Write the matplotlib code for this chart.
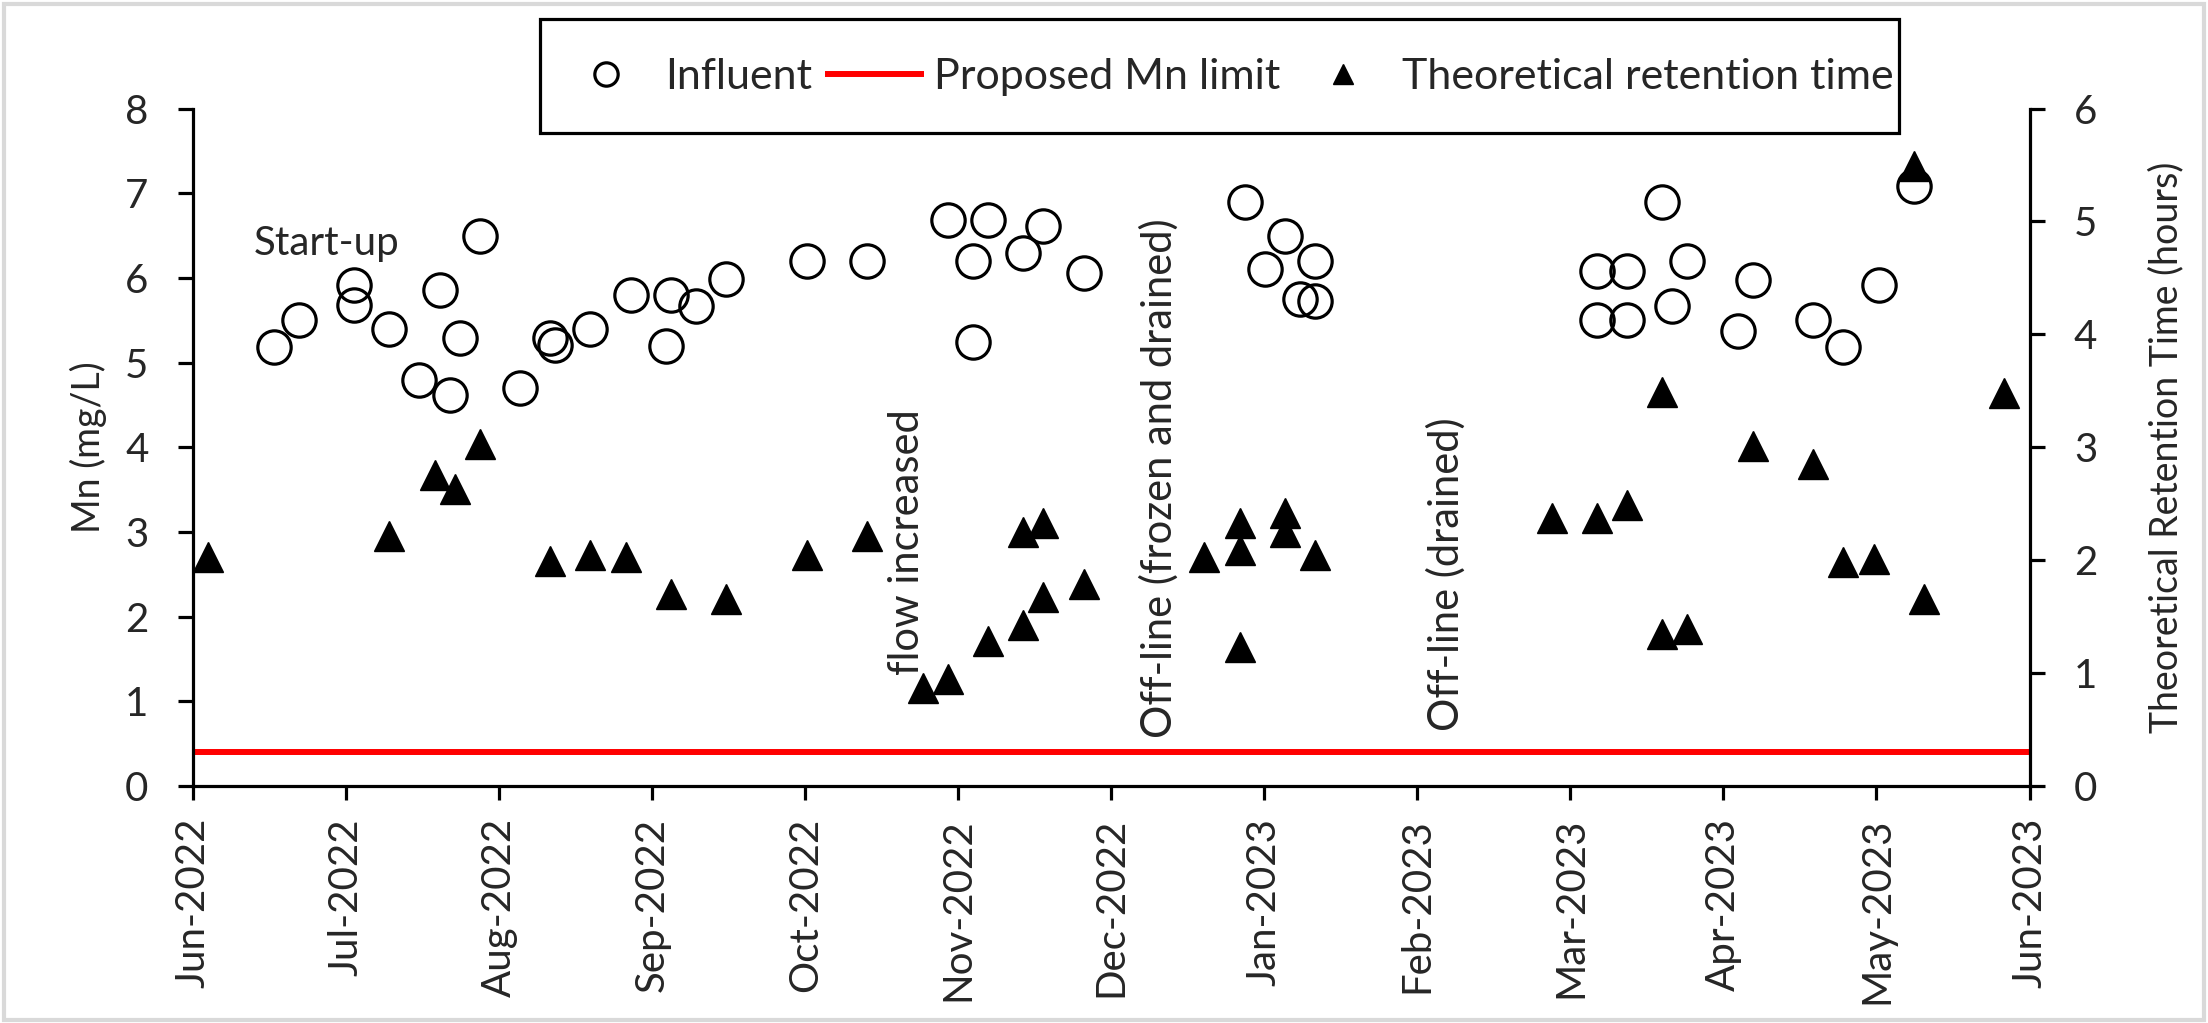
import matplotlib
matplotlib.use("Agg")
import matplotlib.pyplot as plt
import matplotlib.dates as mdates
from matplotlib.patches import Rectangle
import numpy as np

plt.rcParams['font.family'] = ['Lato', 'DejaVu Sans']

# Influent Mn (mg/L)
influent_dates = ['2022-06-17', '2022-06-22', '2022-07-03', '2022-07-03', '2022-07-10',
                  '2022-07-16', '2022-07-20', '2022-07-22', '2022-07-24', '2022-07-28',
                  '2022-08-05', '2022-08-11', '2022-08-12', '2022-08-19', '2022-08-27',
                  '2022-09-03', '2022-09-04', '2022-09-09', '2022-09-15',
                  '2022-10-01', '2022-10-13', '2022-10-29', '2022-11-03', '2022-11-03',
                  '2022-11-06', '2022-11-13', '2022-11-17', '2022-11-25',
                  '2022-12-27', '2022-12-31', '2023-01-04', '2023-01-07', '2023-01-10',
                  '2023-01-10',
                  '2023-03-07', '2023-03-07', '2023-03-13', '2023-03-13', '2023-03-20',
                  '2023-03-22', '2023-03-25', '2023-04-04', '2023-04-07', '2023-04-19',
                  '2023-04-25', '2023-05-02', '2023-05-09']
influent_mn = [5.18, 5.50, 5.91, 5.68, 5.40,
               4.79, 5.86, 4.62, 5.29, 6.49,
               4.70, 5.29, 5.21, 5.40, 5.80,
               5.19, 5.80, 5.67, 5.99,
               6.20, 6.20, 6.68, 6.20, 5.24,
               6.68, 6.29, 6.61, 6.06,
               6.90, 6.10, 6.49, 5.75, 6.20,
               5.73,
               6.08, 5.50, 6.08, 5.50, 6.90,
               5.67, 6.20, 5.37, 5.98, 5.50,
               5.18, 5.91, 7.08]

# Theoretical retention time (hours)
rt_dates = ['2022-06-04', '2022-07-10', '2022-07-19', '2022-07-23', '2022-07-28',
            '2022-08-11', '2022-08-19', '2022-08-26', '2022-09-04', '2022-09-15',
            '2022-10-01', '2022-10-13', '2022-10-24', '2022-10-29', '2022-11-06',
            '2022-11-13', '2022-11-13', '2022-11-17', '2022-11-17', '2022-11-25',
            '2022-12-19', '2022-12-26', '2022-12-26', '2022-12-26', '2023-01-04',
            '2023-01-04', '2023-01-10',
            '2023-02-26', '2023-03-07', '2023-03-13', '2023-03-20', '2023-03-20',
            '2023-03-25', '2023-04-07', '2023-04-19', '2023-04-25', '2023-05-01',
            '2023-05-09', '2023-05-11', '2023-05-27']
rt_hours = [2.03, 2.21, 2.75, 2.63, 3.03,
            1.99, 2.05, 2.03, 1.70, 1.66,
            2.05, 2.21, 0.87, 0.95, 1.28,
            1.43, 2.25, 2.33, 1.67, 1.79,
            2.03, 2.09, 2.33, 1.23, 2.42,
            2.25, 2.05,
            2.37, 2.37, 2.49, 3.49, 1.35,
            1.39, 3.01, 2.85, 1.98, 2.01,
            5.49, 1.66, 3.48]

# Proposed Mn limit
limit_dates = ['2022-06-01', '2023-06-01']
limit_mn = [0.4, 0.4]

month_labels = ['Jun-2022', 'Jul-2022', 'Aug-2022', 'Sep-2022', 'Oct-2022', 'Nov-2022',
                'Dec-2022', 'Jan-2023', 'Feb-2023', 'Mar-2023', 'Apr-2023', 'May-2023',
                'Jun-2023']

inf_x = mdates.datestr2num(influent_dates)
rt_x = mdates.datestr2num(rt_dates)
lim_x = mdates.datestr2num(limit_dates)
x_start, x_end = lim_x[0], lim_x[1]

W, H = 2208, 1023
fig = plt.figure(figsize=(W / 100, H / 100), dpi=100)
ax = fig.add_axes([193 / W, 1 - 786 / H, 1836.5 / W, 677.5 / H])
ax2 = ax.twinx()

h_lim, = ax.plot(lim_x, limit_mn, color='#ff0000', lw=4.3, solid_capstyle='butt',
                 label='Proposed Mn limit')
h_inf, = ax.plot(inf_x, influent_mn, 'o', ls='none', ms=24, mfc='none', mec='black',
                 mew=2.3, label='Influent')
h_rt, = ax2.plot(rt_x, rt_hours, '^', ls='none', ms=21, color='black',
                 label='Theoretical retention time')

ax.set_xlim(x_start, x_end)
ax.set_ylim(0, 8)
ax2.set_ylim(0, 6)
ax.set_yticks(range(0, 9))
ax2.set_yticks(range(0, 7))
ax.set_xticks(np.linspace(x_start, x_end, len(month_labels)))
ax.set_xticklabels(month_labels, rotation=90)

for a in (ax, ax2):
    a.spines['top'].set_visible(False)
    for s in ('left', 'right', 'bottom'):
        a.spines[s].set_linewidth(2.3)
ax.spines['right'].set_visible(False)
ax2.spines['left'].set_visible(False)
ax2.spines['bottom'].set_visible(False)

ax.tick_params(axis='y', direction='out', length=11, width=2.3, pad=21, labelsize=29,
               colors='black', labelcolor='#262626')
ax.tick_params(axis='x', direction='out', length=10, width=2.3, pad=13, labelsize=29,
               labelcolor='#262626')
ax2.tick_params(axis='y', direction='out', length=11, width=2.3, pad=21, labelsize=29,
                labelcolor='#262626')

ax.set_ylabel('Mn (mg/L)', fontsize=27, color='#262626')
ax.yaxis.set_label_coords((107 - 193) / 1836.5, 0.5)
ax2.set_ylabel('Theoretical Retention Time (hours)', fontsize=27, color='#262626')
ax2.yaxis.set_label_coords((2148 - 193) / 1836.5, 0.5)

# annotations
ax.text(mdates.datestr2num('2022-06-13'), 6.41, 'Start-up', fontsize=29,
        ha='left', va='center', color='#262626')
ax.text(mdates.datestr2num('2022-10-21'), 1.31, 'flow increased', fontsize=30,
        rotation=90, ha='center', va='bottom', color='#262626')
ax.text(mdates.datestr2num('2022-12-10'), 0.57, 'Off-line (frozen and drained)',
        fontsize=30, rotation=90, ha='center', va='bottom', color='#262626')
ax.text(mdates.datestr2num('2023-02-05'), 0.65, 'Off-line (drained)', fontsize=30,
        rotation=90, ha='center', va='bottom', color='#262626')

# legend box
box = Rectangle((540 / W, 1 - 133 / H), 1359 / W, 114 / H, transform=fig.transFigure,
                facecolor='white', edgecolor='black', lw=2.3, zorder=4)
fig.add_artist(box)
fig.legend(handles=[h_inf, h_lim, h_rt], loc='center left',
           bbox_to_anchor=(535 / W, 1 - 77 / H), ncol=3, frameon=False, borderpad=0,
           fontsize=31, markerscale=0.7, handlelength=2.3, handletextpad=0.23,
           columnspacing=0.3, labelcolor='#262626')

# outer chart border
fig.add_artist(Rectangle((4 / W, 3 / H), 2200 / W, 1016 / H, transform=fig.transFigure,
                         fill=False, edgecolor='#d9d9d9', lw=3))

fig.savefig('out.png', dpi=100)
